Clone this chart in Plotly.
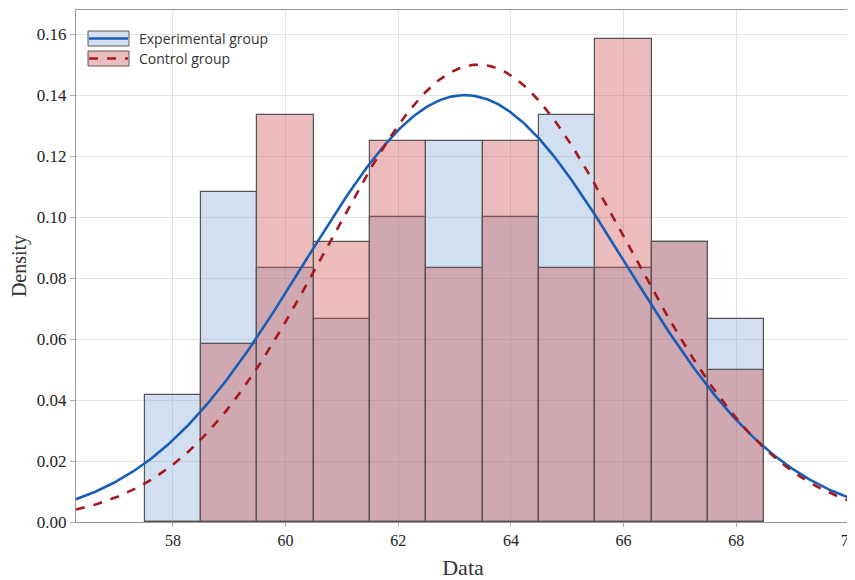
import numpy as np
import plotly.graph_objects as go

bin_centers = [58, 59, 60, 61, 62, 63, 64, 65, 66, 67, 68]
exp_counts = [5, 13, 10, 8, 12, 15, 12, 16, 10, 11, 8]
ctl_counts = [0, 7, 16, 11, 15, 10, 15, 10, 19, 11, 6]
n_exp = 120
n_ctl = 120
exp_mean, exp_sd = 63.18, 2.85
ctl_mean, ctl_sd = 63.42, 2.66
x_ticks = [58, 60, 62, 64, 66, 68, 70]
y_ticks = [0.00, 0.02, 0.04, 0.06, 0.08, 0.10, 0.12, 0.14, 0.16]

exp_density = [c / n_exp for c in exp_counts]
ctl_density = [c / n_ctl for c in ctl_counts]

X_MIN, X_MAX = 56.28, 70.02
Y_MAX = 0.1679
xs = np.linspace(X_MIN, X_MAX, 400)
def pdf(x, m, s):
    return np.exp(-0.5 * ((x - m) / s) ** 2) / (s * np.sqrt(2 * np.pi))

BLUE_FILL = "rgba(119,158,210,0.33)"
RED_FILL = "rgba(204,74,74,0.37)"
EDGE = "rgb(85,85,85)"
BLUE_LINE = "rgb(24,94,184)"
RED_LINE = "rgb(165,25,30)"

fig = go.Figure()
fig.add_trace(go.Bar(x=bin_centers, y=exp_density, width=1,
                     marker=dict(color=BLUE_FILL, line=dict(color=EDGE, width=1.2)),
                     name="Experimental group", showlegend=False))
fig.add_trace(go.Bar(x=bin_centers, y=ctl_density, width=1,
                     marker=dict(color=RED_FILL, line=dict(color=EDGE, width=1.2)),
                     name="Control group", showlegend=False))
fig.add_trace(go.Scatter(x=xs, y=pdf(xs, exp_mean, exp_sd), mode="lines",
                         line=dict(color=BLUE_LINE, width=2.6), showlegend=False))
fig.add_trace(go.Scatter(x=xs, y=pdf(xs, ctl_mean, ctl_sd), mode="lines",
                         line=dict(color=RED_LINE, width=2.6, dash="dash"), showlegend=False))

# page body has an 8px margin; figure coords = window coords - 8
OFF = 8
W, H = 847, 572
L, R, T, B = 68, 5, 2, 58
pw, ph = W - L - R, H - T - B
def px(x):
    return (x - OFF - L) / pw
def py(y):
    return 1 - (y - OFF - T) / ph

shapes = []
annotations = []
legend_items = [("Experimental group", "rgb(210,223,240)", BLUE_LINE, "solid", 31, 46),
                ("Control group", "rgb(236,189,190)", RED_LINE, "dash", 51, 66)]
for label, fill, lc, dash, y0, y1 in legend_items:
    shapes.append(dict(type="rect", xref="paper", yref="paper",
                       x0=px(88), x1=px(129), y0=py(y1), y1=py(y0),
                       fillcolor=fill, line=dict(color="rgb(90,90,90)", width=1)))
    ym = py((y0 + y1) / 2)
    shapes.append(dict(type="line", xref="paper", yref="paper",
                       x0=px(89), x1=px(128), y0=ym, y1=ym,
                       line=dict(color=lc, width=2.6, dash=dash)))
    annotations.append(dict(text=label, xref="paper", yref="paper",
                            x=px(137), y=ym, xanchor="left", yanchor="middle",
                            showarrow=False,
                            font=dict(family="Open Sans", size=14, color="#333")))

fig.update_layout(
    width=W, height=H,
    margin=dict(l=L, r=R, t=T, b=B, autoexpand=False),
    paper_bgcolor="white", plot_bgcolor="white",
    barmode="overlay", bargap=0,
    shapes=shapes, annotations=annotations,
    font=dict(family="Liberation Serif", color="#222"),
)
fig.update_xaxes(range=[X_MIN, X_MAX], tickvals=x_ticks, automargin=False,
                 ticklabeloverflow="allow",
                 showgrid=True, gridcolor="rgb(228,228,228)", gridwidth=1,
                 showline=True, linecolor="rgb(150,150,150)", linewidth=1.2, mirror=True,
                 ticks="outside", ticklen=4, tickcolor="rgb(170,170,170)",
                 tickfont=dict(family="Liberation Serif", size=16, color="#222"),
                 title=dict(text="Data", font=dict(family="Liberation Serif", size=22, color="#333"), standoff=11),
                 zeroline=False)
fig.update_yaxes(range=[0, Y_MAX], tickvals=y_ticks, tickformat=".2f", automargin=False,
                 ticklabeloverflow="allow",
                 showgrid=True, gridcolor="rgb(228,228,228)", gridwidth=1,
                 showline=True, linecolor="rgb(150,150,150)", linewidth=1.2, mirror=True,
                 ticks="outside", ticklen=5, tickcolor="rgb(170,170,170)",
                 tickfont=dict(family="Liberation Serif", size=17, color="#222"),
                 title=dict(text="Density", font=dict(family="Liberation Serif", size=20, color="#333"), standoff=5),
                 zeroline=False)

fig.write_html("out.html")
